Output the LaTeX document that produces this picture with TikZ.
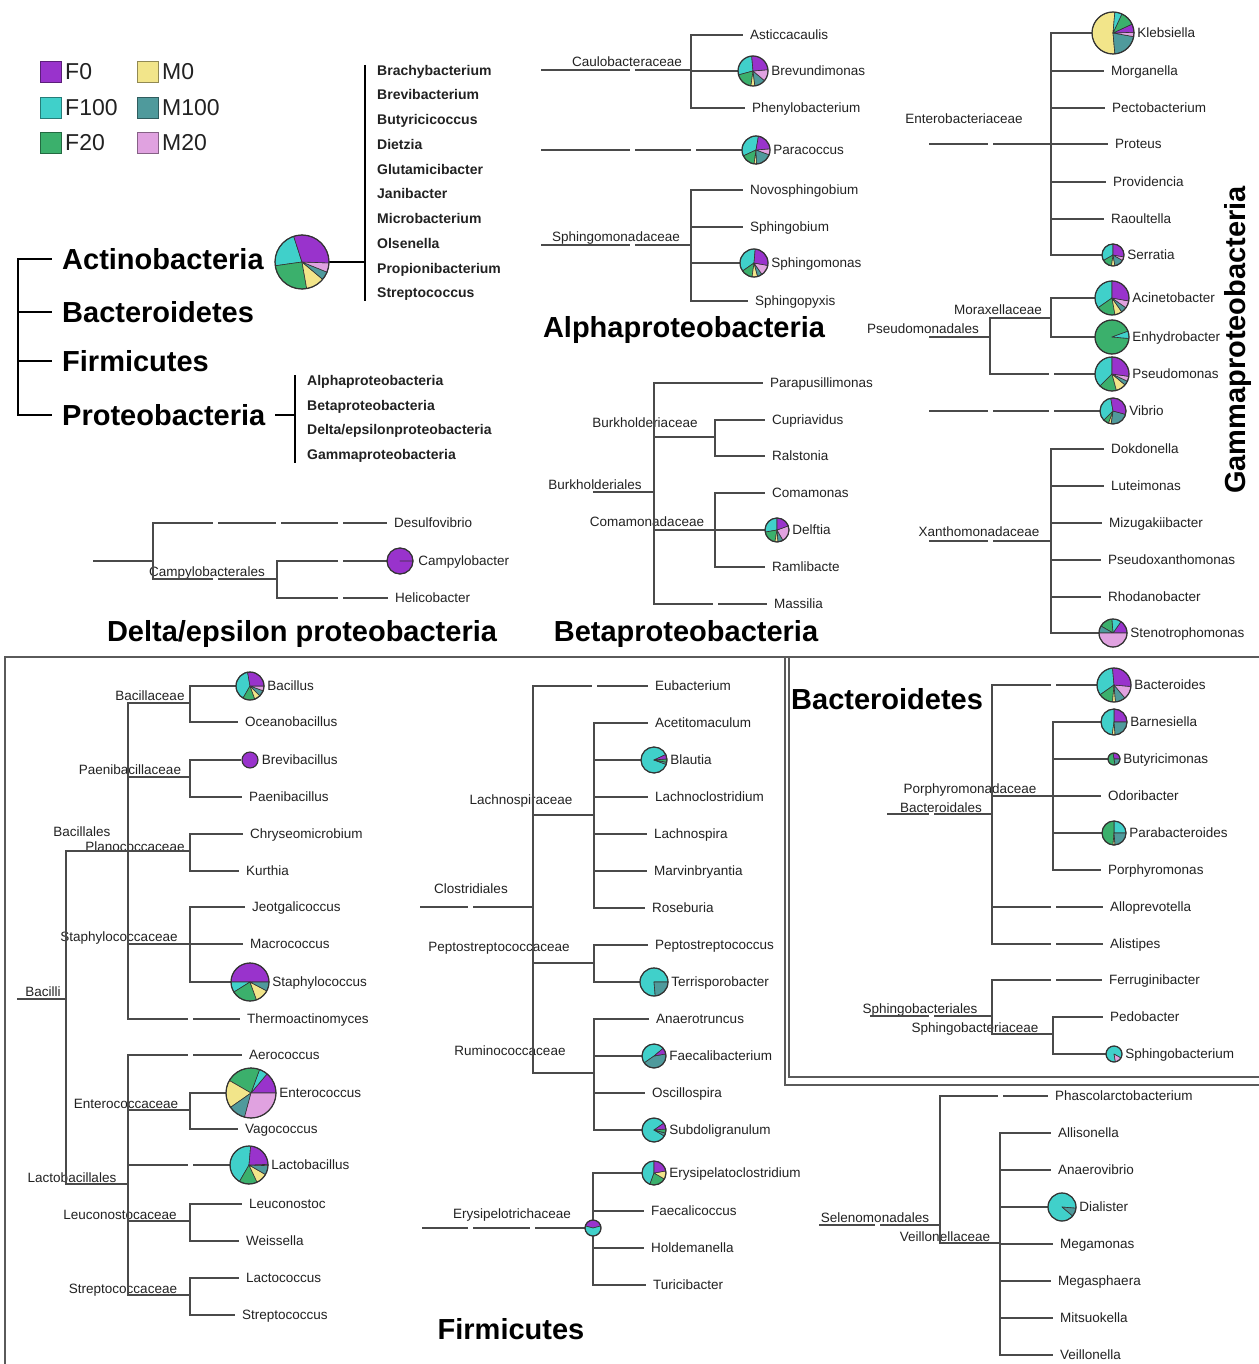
\documentclass[tikz,border=0pt]{standalone}
\usepackage{fontspec}
\setmainfont{Liberation Sans}
\usetikzlibrary{positioning}
\definecolor{F0}{HTML}{9933CC}
\definecolor{F100}{HTML}{40D0CA}
\definecolor{F20}{HTML}{3BB06C}
\definecolor{M0}{HTML}{F2E58A}
\definecolor{M100}{HTML}{4F9A9C}
\definecolor{M20}{HTML}{E0A2E0}
\definecolor{ink}{HTML}{222222}
\definecolor{tree}{HTML}{4A4A4A}
\definecolor{pieline}{HTML}{333333}
\definecolor{boxline}{HTML}{5A5A5A}
\newcommand{\sm}{\fontsize{13.5pt}{16pt}\selectfont}
\newcommand{\lst}{\fontsize{14pt}{24.75pt}\selectfont\bfseries}
\newcommand{\ttl}{\fontsize{29pt}{34pt}\selectfont\bfseries}
\newcommand{\slices}[3]{%
  \foreach \s/\e/\c in {#3}
    \filldraw[fill=\c, draw=pieline, line width=0.6pt, line join=round]
      (#1.center) -- ++(\s:#2pt) arc[start angle=\s, end angle=\e, radius=#2pt] -- cycle;
  \draw[pieline, line width=1.2pt] (#1.center) circle[radius=#2pt];}
\tikzset{
  br/.style={draw=tree, line width=1.3pt},
  thk/.style={draw=black, line width=2.3pt},
  rim/.style={draw=boxline, line width=1.5pt},
  leaf/.style={anchor=west, inner xsep=7pt, inner ysep=0pt, text height=11pt,
    text depth=2pt, font=\sm, text=ink},
  pleaf/.style={leaf, inner xsep=3pt},
  fam/.style={anchor=base, inner sep=0pt, font=\sm, text=ink, yshift=-1pt},
  piebox/.style={circle, inner sep=0pt, minimum size=2*#1pt},
  head/.style={font=\ttl, text=black, inner sep=0pt},
  phy/.style={anchor=west, inner xsep=10pt, inner ysep=0pt, font=\ttl, text=black},
  glist/.style={anchor=west, inner xsep=12pt, inner ysep=0pt, align=left, font=\lst, text=ink},
  key/.style={draw, line width=1pt, minimum size=21pt, inner sep=0pt},
  keytext/.style={anchor=west, inner sep=0pt, font=\fontsize{23pt}{26pt}\selectfont, text=ink},
}
\begin{document}
\begin{tikzpicture}[x=1pt, y=-1pt]
  \fill[white] (0,0) rectangle (1258,1364);
  \useasboundingbox (0,0) rectangle (1258,1364);
  % legend
  \foreach \k/\x/\y in {F0/51/72, F100/51/108, F20/51/143, M0/148/72, M100/148/108, M20/148/143} {
    \node[key, fill=\k, draw=\k!60!black] (key\k) at (\x,\y) {};
    \node[keytext, right=3pt of key\k] (txt\k) {\k};
  }
  % phyla
  \coordinate (phyJ) at (18,337);
  \node[phy] (acti) at (52,259) {Actinobacteria};
  \node[phy] (bact) at (52,312) {Bacteroidetes};
  \node[phy] (firm) at (52,361) {Firmicutes};
  \node[phy] (prot) at (52,415) {Proteobacteria};
  \foreach \n in {acti,bact,firm,prot} \draw[thk] (phyJ) |- (\n.west);
  \node[piebox=27] (actpie) at (302,262) {};
  \node[glist] (actlist) at (365,183) {Brachybacterium\\Brevibacterium\\Butyricicoccus\\Dietzia\\Glutamicibacter\\Janibacter\\Microbacterium\\Olsenella\\Propionibacterium\\Streptococcus};
  \draw[thk] (actlist.north west) -- (actlist.south west);
  \draw[thk] (actpie.east) -- (actpie.east -| actlist.west);
  \node[glist] (protlist) at (295,419) {Alphaproteobacteria\\Betaproteobacteria\\Delta/epsilonproteobacteria\\Gammaproteobacteria};
  \draw[thk] (protlist.north west) -- (protlist.south west);
  \draw[thk] (prot.east) -- (prot.east -| protlist.west);

  % Alphaproteobacteria
  \coordinate (cauS) at (541,70);
  \coordinate (cauJ) at (691,70);
  \node[fam] (cauL) at (627,66) {Caulobacteraceae};
  \node[leaf] (asti) at (743,35) {Asticcacaulis};
  \node[piebox=15] (brev) at (753,71) {};
  \node[pleaf, right=0pt of brev] (brevT) {Brevundimonas};
  \node[leaf] (phen) at (745,108) {Phenylobacterium};
  \coordinate (parS) at (541,150);
  \node[piebox=14] (para) at (756,150) {};
  \node[pleaf, right=0pt of para] (paraT) {Paracoccus};
  \coordinate (sphS) at (541,245);
  \coordinate (sphJ) at (691,245);
  \node[fam] (sphL) at (616,240) {Sphingomonadaceae};
  \node[leaf] (novo) at (743,190) {Novosphingobium};
  \node[leaf] (sbium) at (743,227) {Sphingobium};
  \node[piebox=14] (sphm) at (754,263) {};
  \node[pleaf, right=0pt of sphm] (sphmT) {Sphingomonas};
  \node[leaf] (spyx) at (748,301) {Sphingopyxis};
  \node[head] (alphaT) at (684,330) {Alphaproteobacteria};
  \draw[br] (cauS) -- (cauJ) (parS) -- (para) (sphS) -- (sphJ);
  \foreach \n in {asti,brev,phen} \draw[br] (cauJ) |- (\n.west);
  \foreach \n in {novo,sbium,sphm,spyx} \draw[br] (sphJ) |- (\n.west);

  % Gammaproteobacteria
  \coordinate (entS) at (929,144);
  \coordinate (entJ) at (1051,144);
  \node[fam] (entL) at (964,123) {Enterobacteriaceae};
  \node[piebox=21] (kleb) at (1113,33) {};
  \node[pleaf, right=0pt of kleb] (klebT) {Klebsiella};
  \node[leaf] (morg) at (1104,71) {Morganella};
  \node[leaf] (pect) at (1105,108) {Pectobacterium};
  \node[leaf] (proteus) at (1108,144) {Proteus};
  \node[leaf] (prov) at (1106,182) {Providencia};
  \node[leaf] (raou) at (1104,219) {Raoultella};
  \node[piebox=11] (serr) at (1113,255) {};
  \node[pleaf, right=0pt of serr] (serrT) {Serratia};
  \draw[br] (entS) -- (entJ);
  \foreach \n in {kleb,morg,pect,proteus,prov,raou,serr} \draw[br] (entJ) |- (\n.west);
  \coordinate (psdS) at (929,337);
  \coordinate (psdJ) at (990,337);
  \coordinate (morJ) at (1051,318);
  \node[fam] (psdL) at (923,332) {Pseudomonadales};
  \node[fam] (morL) at (998,313) {Moraxellaceae};
  \node[piebox=17] (acin) at (1112,298) {};
  \node[pleaf, right=0pt of acin] (acinT) {Acinetobacter};
  \node[piebox=17] (enhy) at (1112,337) {};
  \node[pleaf, right=0pt of enhy] (enhyT) {Enhydrobacter};
  \node[piebox=17] (pseu) at (1112,374) {};
  \node[pleaf, right=0pt of pseu] (pseuT) {Pseudomonas};
  \coordinate (vibS) at (929,411);
  \node[piebox=13] (vibr) at (1113,411) {};
  \node[pleaf, right=0pt of vibr] (vibrT) {Vibrio};
  \draw[br] (psdS) -- (psdJ) (psdJ) |- (morJ) (psdJ) |- (pseu.west) (vibS) -- (vibr);
  \foreach \n in {acin,enhy} \draw[br] (morJ) |- (\n.west);
  \coordinate (xanS) at (929,541);
  \coordinate (xanJ) at (1051,541);
  \node[fam] (xanL) at (979,535) {Xanthomonadaceae};
  \node[leaf] (dokd) at (1104,449) {Dokdonella};
  \node[leaf] (lute) at (1104,486) {Luteimonas};
  \node[leaf] (mizu) at (1102,523) {Mizugakiibacter};
  \node[leaf] (pxan) at (1101,560) {Pseudoxanthomonas};
  \node[leaf] (rhod) at (1101,597) {Rhodanobacter};
  \node[piebox=14] (sten) at (1113,633) {};
  \node[pleaf, right=0pt of sten] (stenT) {Stenotrophomonas};
  \draw[br] (xanS) -- (xanJ);
  \foreach \n in {dokd,lute,mizu,pxan,rhod,sten} \draw[br] (xanJ) |- (\n.west);
  \node[head, rotate=90] (gammaT) at (1238,340) {Gammaproteobacteria};

  % Betaproteobacteria
  \coordinate (burS) at (593,492);
  \coordinate (burJ) at (654,492);
  \coordinate (bkhJ) at (715,437);
  \coordinate (comJ) at (715,530);
  \node[fam] (burL) at (595,488) {Burkholderiales};
  \node[fam] (bkhL) at (645,426) {Burkholderiaceae};
  \node[fam] (comL) at (647,525) {Comamonadaceae};
  \node[leaf] (ppus) at (763,383) {Parapusillimonas};
  \node[leaf] (cupr) at (765,420) {Cupriavidus};
  \node[leaf] (rals) at (765,456) {Ralstonia};
  \node[leaf] (coma) at (765,493) {Comamonas};
  \node[piebox=12] (delf) at (777,530) {};
  \node[pleaf, right=0pt of delf] (delfT) {Delftia};
  \node[leaf] (raml) at (765,567) {Ramlibacte};
  \node[leaf] (mass) at (767,604) {Massilia};
  \draw[br] (burS) -- (burJ) (burJ) |- (bkhJ) (burJ) |- (comJ);
  \foreach \n in {ppus,mass} \draw[br] (burJ) |- (\n.west);
  \foreach \n in {cupr,rals} \draw[br] (bkhJ) |- (\n.west);
  \foreach \n in {coma,delf,raml} \draw[br] (comJ) |- (\n.west);
  \node[head] (betaT) at (686,634) {Betaproteobacteria};

  % Delta/epsilon
  \coordinate (delS) at (93,561);
  \coordinate (delJ) at (153,561);
  \coordinate (cmpJ) at (277,579);
  \node[fam] (cmpL) at (207,575) {Campylobacterales};
  \node[leaf] (desu) at (387,523) {Desulfovibrio};
  \node[piebox=13] (camp) at (400,561) {};
  \node[pleaf, right=2pt of camp] (campT) {Campylobacter};
  \node[leaf] (heli) at (388,598) {Helicobacter};
  \draw[br] (delS) -- (delJ) (delJ) |- (desu.west) (delJ) |- (cmpJ);
  \foreach \n in {camp,heli} \draw[br] (cmpJ) |- (\n.west);
  \node[head] (deltaT) at (302,634) {Delta/epsilon proteobacteria};

  % frames
  \draw[rim] (5,1370) -- (5,657) -- (1262,657);
  \draw[rim] (785,657) -- (785,1085) -- (1262,1085);
  \draw[rim] (789,657) -- (789,1077) -- (1262,1077);

  % Bacilli
  \coordinate (bciS) at (17,999);
  \coordinate (bciJ) at (66,999);
  \coordinate (bclJ) at (128,851);
  \coordinate (bcaJ) at (190,703);
  \coordinate (pbcJ) at (190,777);
  \coordinate (plnJ) at (190,851);
  \coordinate (stfJ) at (190,944);
  \coordinate (lcbJ) at (128,1184);
  \coordinate (entcJ) at (190,1110);
  \coordinate (leuJ) at (190,1221);
  \coordinate (strJ) at (190,1295);
  \node[fam] (bciL) at (43,995) {Bacilli};
  \node[fam] (bclL) at (82,835) {Bacillales};
  \node[fam] (bcaL) at (150,699) {Bacillaceae};
  \node[fam] (pbcL) at (130,773) {Paenibacillaceae};
  \node[fam] (plnL) at (135,850) {Planococcaceae};
  \node[fam] (stfL) at (119,940) {Staphylococcaceae};
  \node[fam] (lcbL) at (72,1181) {Lactobacillales};
  \node[fam] (entcL) at (126,1107) {Enterococcaceae};
  \node[fam] (leuL) at (120,1218) {Leuconostocaceae};
  \node[fam] (strL) at (123,1292) {Streptococcaceae};
  \node[piebox=14] (bacil) at (250,686) {};
  \node[pleaf, right=0pt of bacil] (bacilT) {Bacillus};
  \node[leaf] (ocea) at (238,722) {Oceanobacillus};
  \node[piebox=8, fill=F0, draw=pieline, line width=1.1pt] (brvb) at (250,760) {};
  \node[pleaf, right=0pt of brvb] (brvbT) {Brevibacillus};
  \node[leaf] (paen) at (242,797) {Paenibacillus};
  \node[leaf] (chry) at (243,834) {Chryseomicrobium};
  \node[leaf] (kurt) at (239,871) {Kurthia};
  \node[leaf] (jeot) at (245,907) {Jeotgalicoccus};
  \node[leaf] (macr) at (243,944) {Macrococcus};
  \node[piebox=19] (stph) at (250,982) {};
  \node[pleaf, right=0pt of stph] (stphT) {Staphylococcus};
  \node[leaf] (ther) at (240,1019) {Thermoactinomyces};
  \node[leaf] (aero) at (242,1055) {Aerococcus};
  \node[piebox=25] (ente) at (251,1093) {};
  \node[pleaf, right=0pt of ente] (enteT) {Enterococcus};
  \node[leaf] (vago) at (238,1129) {Vagococcus};
  \node[piebox=19] (lacb) at (249,1165) {};
  \node[pleaf, right=0pt of lacb] (lacbT) {Lactobacillus};
  \node[leaf] (leuc) at (242,1204) {Leuconostoc};
  \node[leaf] (weis) at (239,1241) {Weissella};
  \node[leaf] (lacc) at (239,1278) {Lactococcus};
  \node[leaf] (strp) at (235,1315) {Streptococcus};
  \draw[br] (bciS) -- (bciJ) (bciJ) |- (bclJ) (bciJ) |- (lcbJ);
  \foreach \j in {bcaJ,pbcJ,plnJ,stfJ} \draw[br] (bclJ) |- (\j);
  \foreach \j in {entcJ,leuJ,strJ} \draw[br] (lcbJ) |- (\j);
  \draw[br] (bclJ) |- (ther.west) (lcbJ) |- (aero.west) (lcbJ) |- (lacb.west);
  \foreach \j/\n in {bcaJ/bacil, bcaJ/ocea, pbcJ/brvb, pbcJ/paen, plnJ/chry, plnJ/kurt, stfJ/jeot, stfJ/macr, stfJ/stph,
    entcJ/ente, entcJ/vago, leuJ/leuc, leuJ/weis, strJ/lacc, strJ/strp} \draw[br] (\j) |- (\n.west);

  % Clostridiales
  \coordinate (clsS) at (420,907);
  \coordinate (clsJ) at (533,907);
  \coordinate (lchJ) at (594,815);
  \coordinate (pepJ) at (594,963);
  \coordinate (rumJ) at (594,1073);
  \node[fam] (clsL) at (471,892) {Clostridiales};
  \node[fam] (lchL) at (521,803) {Lachnospiraceae};
  \node[fam] (pepL) at (499,950) {Peptostreptococcaceae};
  \node[fam] (rumL) at (510,1054) {Ruminococcaceae};
  \node[leaf] (euba) at (648,686) {Eubacterium};
  \node[leaf] (acet) at (648,723) {Acetitomaculum};
  \node[piebox=13] (blau) at (654,760) {};
  \node[pleaf, right=0pt of blau] (blauT) {Blautia};
  \node[leaf] (lcst) at (648,797) {Lachnoclostridium};
  \node[leaf] (lchs) at (647,834) {Lachnospira};
  \node[leaf] (marv) at (647,871) {Marvinbryantia};
  \node[leaf] (rose) at (645,908) {Roseburia};
  \node[leaf] (pept) at (648,945) {Peptostreptococcus};
  \node[piebox=14] (terr) at (654,982) {};
  \node[pleaf, right=0pt of terr] (terrT) {Terrisporobacter};
  \node[leaf] (anae) at (649,1019) {Anaerotruncus};
  \node[piebox=12] (faec) at (654,1056) {};
  \node[pleaf, right=0pt of faec] (faecT) {Faecalibacterium};
  \node[leaf] (osci) at (645,1093) {Oscillospira};
  \node[piebox=12] (subd) at (654,1130) {};
  \node[pleaf, right=0pt of subd] (subdT) {Subdoligranulum};
  \draw[br] (clsS) -- (clsJ) (clsJ) |- (euba.west);
  \foreach \j in {lchJ,pepJ,rumJ} \draw[br] (clsJ) |- (\j);
  \foreach \j/\n in {lchJ/acet, lchJ/blau, lchJ/lcst, lchJ/lchs, lchJ/marv, lchJ/rose, pepJ/pept, pepJ/terr,
    rumJ/anae, rumJ/faec, rumJ/osci, rumJ/subd} \draw[br] (\j) |- (\n.west);
  % Erysipelotrichaceae
  \coordinate (eryS) at (422,1228);
  \node[fam] (eryL) at (512,1217) {Erysipelotrichaceae};
  \node[piebox=8] (eryp) at (593,1228) {};
  \node[piebox=12] (eryc) at (654,1173) {};
  \node[pleaf, right=0pt of eryc] (erycT) {Erysipelatoclostridium};
  \node[leaf] (fcal) at (644,1211) {Faecalicoccus};
  \node[leaf] (hold) at (644,1248) {Holdemanella};
  \node[leaf] (turi) at (646,1285) {Turicibacter};
  \draw[br] (eryS) -- (eryp);
  \foreach \n in {eryc,fcal,hold,turi} \draw[br] (eryp) |- (\n.west);
  \node[head] (firmT) at (511,1329) {Firmicutes};

  % Bacteroidetes
  \node[head, anchor=west] (bactT) at (791,699) {Bacteroidetes};
  \coordinate (bdlS) at (887,814);
  \coordinate (bdlJ) at (992,814);
  \coordinate (porJ) at (1053,796);
  \coordinate (sbS) at (870,1016);
  \coordinate (sbJ) at (992,1016);
  \coordinate (sbcJ) at (1053,1034);
  \node[fam] (bdlL) at (941,811) {Bacteroidales};
  \node[fam] (porL) at (970,792) {Porphyromonadaceae};
  \node[fam] (sbL) at (920,1012) {Sphingobacteriales};
  \node[fam] (sbcL) at (975,1031) {Sphingobacteriaceae};
  \node[piebox=17] (bcts) at (1114,685) {};
  \node[pleaf, right=0pt of bcts] (bctsT) {Bacteroides};
  \node[piebox=13] (barn) at (1114,722) {};
  \node[pleaf, right=0pt of barn] (barnT) {Barnesiella};
  \node[piebox=6] (butm) at (1114,759) {};
  \node[pleaf, right=0pt of butm] (butmT) {Butyricimonas};
  \node[leaf] (odor) at (1101,796) {Odoribacter};
  \node[piebox=12] (parb) at (1114,833) {};
  \node[pleaf, right=0pt of parb] (parbT) {Parabacteroides};
  \node[leaf] (porm) at (1101,870) {Porphyromonas};
  \node[leaf] (allo) at (1103,907) {Alloprevotella};
  \node[leaf] (alis) at (1103,944) {Alistipes};
  \node[leaf] (ferr) at (1102,980) {Ferruginibacter};
  \node[leaf] (pedo) at (1103,1017) {Pedobacter};
  \node[piebox=8] (sbact) at (1114,1054) {};
  \node[pleaf, right=0pt of sbact] (sbactT) {Sphingobacterium};
  \draw[br] (bdlS) -- (bdlJ) (bdlJ) |- (porJ) (sbS) -- (sbJ) (sbJ) |- (sbcJ);
  \foreach \j/\n in {bdlJ/bcts, bdlJ/allo, bdlJ/alis, porJ/barn, porJ/butm, porJ/odor, porJ/parb, porJ/porm,
    sbJ/ferr, sbcJ/pedo, sbcJ/sbact} \draw[br] (\j) |- (\n.west);

  % Selenomonadales
  \coordinate (selS) at (819,1225);
  \coordinate (selJ) at (940,1225);
  \coordinate (veiJ) at (1000,1243);
  \node[fam] (selL) at (875,1221) {Selenomonadales};
  \node[fam] (veiL) at (945,1240) {Veillonellaceae};
  \node[leaf] (phas) at (1048,1096) {Phascolarctobacterium};
  \node[leaf] (alli) at (1051,1133) {Allisonella};
  \node[leaf] (anav) at (1051,1170) {Anaerovibrio};
  \node[piebox=14] (dial) at (1062,1207) {};
  \node[pleaf, right=0pt of dial] (dialT) {Dialister};
  \node[leaf] (megm) at (1053,1244) {Megamonas};
  \node[leaf] (megs) at (1051,1281) {Megasphaera};
  \node[leaf] (mits) at (1053,1318) {Mitsuokella};
  \node[leaf] (veil) at (1053,1355) {Veillonella};
  \draw[br] (selS) -- (selJ) (selJ) |- (phas.west) (selJ) |- (veiJ);
  \foreach \n in {alli,anav,dial,megm,megs,mits,veil} \draw[br] (veiJ) |- (\n.west);

  % breaks in the branches
  \foreach \x/\y in {632/70, 632/150, 693/150, 632/245, 990/144, 1051/374, 990/411, 1051/411, 990/541, 715/604,
    215/523, 278/523, 340/523, 215/579, 340/561, 340/598, 190/1019, 190/1055, 190/1165, 470/907, 594/686,
    470/1228, 532/1228, 931/814, 1053/685, 1053/907, 1053/944, 931/1016, 1053/980, 877/1225, 1000/1096}
    \fill[white] (\x-2.5,\y-2) rectangle (\x+2.5,\y+2);

  % pies
  \slices{actpie}{27}{108/188/F100, 188/280/F20, 280/320/M0, 320/338/M100, 338/358/M20, 358/468/F0}
  \slices{brev}{15}{95/195/F100, 195/262/F20, 262/277/M0, 277/320/M100, 320/365/M20, 365/455/F0}
  \slices{para}{14}{80/205/F100, 205/262/F20, 262/272/M0, 272/340/M100, 340/365/M20, 365/440/F0}
  \slices{sphm}{14}{85/215/F100, 215/262/F20, 262/285/M0, 285/305/M100, 305/350/M20, 350/445/F0}
  \slices{kleb}{21}{85/275/M0, 275/350/M100, 350/362/M20, 362/385/F0, 385/425/F20, 425/445/F100}
  \slices{serr}{11}{90/210/F100, 210/262/F20, 262/280/M0, 280/330/M100, 330/350/M20, 350/450/F0}
  \slices{acin}{17}{90/215/F100, 215/280/F20, 280/305/M0, 305/325/M100, 325/350/M20, 350/450/F0}
  \slices{enhy}{17}{20/355/F20, 355/380/F100}
  \slices{pseu}{17}{90/225/F100, 225/285/F20, 285/320/M0, 320/335/M100, 335/352/M20, 352/450/F0}
  \slices{vibr}{13}{100/225/F100, 225/250/F20, 250/262/M0, 262/345/M100, 345/460/F0}
  \slices{sten}{14}{0/55/F0, 55/95/F100, 95/150/F20, 150/180/M100, 180/360/M20}
  \slices{delf}{12}{90/190/F100, 190/260/F20, 260/275/M0, 275/300/M100, 300/380/M20, 380/450/F0}
  \slices{camp}{13}{0/360/F0}
  \slices{bacil}{14}{100/240/F100, 240/290/F20, 290/315/M0, 315/340/M100, 340/360/M20, 360/460/F0}
  \slices{stph}{19}{0/180/F0, 180/212/F100, 212/290/F20, 290/332/M0, 332/360/M100}
  \slices{ente}{25}{0/50/F0, 50/70/F100, 70/150/F20, 150/215/M0, 215/255/M100, 255/360/M20}
  \slices{lacb}{19}{85/240/F100, 240/295/F20, 295/330/M0, 330/358/M100, 358/362/M20, 362/445/F0}
  \slices{blau}{13}{25/340/F100, 340/350/M100, 350/365/F20, 365/385/F0}
  \slices{terr}{14}{0/275/F100, 275/360/M100}
  \slices{faec}{12}{40/215/F100, 215/370/M100, 370/400/F0}
  \slices{subd}{12}{35/330/F100, 330/345/M100, 345/365/F20, 365/395/F0}
  \slices{eryc}{12}{90/250/F100, 250/330/F20, 330/370/M0, 370/450/F0}
  \slices{eryp}{8}{15/165/F0, 165/375/F100}
  \slices{bcts}{17}{95/215/F100, 215/265/F20, 265/275/M0, 275/310/M100, 310/355/M20, 355/455/F0}
  \slices{barn}{13}{0/90/F0, 90/262/F100, 262/275/M0, 275/360/M100}
  \slices{butm}{6}{0/100/F0, 100/280/F20, 280/360/M100}
  \slices{parb}{12}{0/90/F100, 90/265/F20, 265/275/M0, 275/360/M100}
  \slices{sbact}{8}{-30/280/F100, 280/330/M20}
  \slices{dial}{14}{-5/320/F100, 320/355/M100}
\end{tikzpicture}
\end{document}
